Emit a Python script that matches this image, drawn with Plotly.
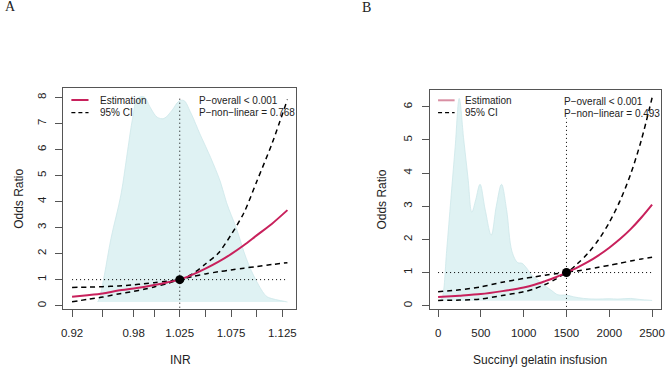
import plotly.graph_objects as go

# ---------------- Panel A : INR ----------------
inr_x = [0.92, 0.935, 0.95, 0.965, 0.98, 0.99, 1.0, 1.0125, 1.025, 1.0375, 1.05,
         1.0625, 1.075, 1.0875, 1.1, 1.115, 1.13]
inr_est = [0.34, 0.40, 0.47, 0.58, 0.66, 0.72, 0.79, 0.89, 1.0, 1.19, 1.42,
           1.68, 1.98, 2.32, 2.70, 3.15, 3.67]
inr_upper = [0.70, 0.71, 0.73, 0.755, 0.80, 0.84, 0.88, 0.94, 1.0, 1.22, 1.60,
             2.01, 2.72, 3.56, 4.76, 6.23, 7.92]
inr_lower = [0.15, 0.24, 0.33, 0.45, 0.55, 0.63, 0.72, 0.85, 1.0, 1.12, 1.22,
             1.30, 1.37, 1.44, 1.50, 1.58, 1.65]
inr_dens_x = [0.945, 0.9467, 0.9515, 0.958, 0.9676, 0.974, 0.979, 0.9838, 0.9902,
              0.9966, 1.003, 1.0095, 1.0176, 1.024, 1.029, 1.0353, 1.0452, 1.055,
              1.0647, 1.0707, 1.0804, 1.09, 1.0997, 1.109, 1.1126, 1.1287, 1.13]
inr_dens_y = [0.15, 0.28, 1.18, 2.59, 4.25, 5.91, 7.19, 7.96, 8.02,
              7.59, 7.24, 7.19, 7.51, 7.85, 7.88, 7.45, 6.55, 5.70,
              4.75, 3.95, 2.95, 1.80, 0.95, 0.38, 0.30, 0.15, 0.14]
inr_dens_base = 0.14
inr_ref = 1.025
inr_ticks = [0.92, 0.95, 0.98, 1.0, 1.025, 1.05, 1.075, 1.1, 1.125]
inr_ticklabels = ["0.92", "", "0.98", "", "1.025", "", "1.075", "", "1.125"]
inr_yticks = [0, 1, 2, 3, 4, 5, 6, 7, 8]
inr_p = ["P\u2212overall < 0.001", "P\u2212non\u2212linear = 0.768"]

# ---------------- Panel B : Succinyl gelatin ----------------
sg_x = [0, 250, 500, 750, 1000, 1125, 1250, 1375, 1500, 1625, 1750, 1875, 2000,
        2125, 2250, 2375, 2500]
sg_est = [0.26, 0.30, 0.35, 0.44, 0.55, 0.63, 0.74, 0.86, 1.0, 1.15, 1.32, 1.52,
          1.75, 2.01, 2.31, 2.66, 3.05]
sg_upper = [0.42, 0.48, 0.57, 0.71, 0.82, 0.87, 0.92, 0.965, 1.0, 1.26, 1.58, 1.99,
            2.51, 3.16, 3.97, 5.00, 6.27]
sg_lower = [0.16, 0.17, 0.20, 0.31, 0.42, 0.51, 0.64, 0.80, 1.0, 1.05, 1.10, 1.16,
            1.22, 1.28, 1.35, 1.41, 1.46]
sg_dens_x = [30, 54, 100, 150, 200, 247, 300, 350, 394, 440, 490, 550, 621, 680,
             741, 800, 864, 930, 980, 1030, 1100, 1180, 1250, 1330, 1400, 1500,
             1580, 1700, 1850, 2000, 2100, 2250, 2350, 2500]
sg_dens_y = [0.17, 0.30, 1.66, 3.24, 4.80, 6.25, 5.00, 3.84, 2.82, 3.20, 3.66, 2.90,
             2.13, 3.00, 3.66, 2.90, 1.63, 1.30, 1.28, 1.15, 0.90, 0.75, 0.60, 0.45,
             0.33, 0.32, 0.27, 0.22, 0.20, 0.21, 0.20, 0.22, 0.19, 0.16]
sg_dens_base = 0.15
sg_ref = 1500
sg_ticks = [0, 500, 1000, 1500, 2000, 2500]
sg_ticklabels = ["0", "500", "1000", "1500", "2000", "2500"]
sg_yticks = [0, 1, 2, 3, 4, 5, 6]
sg_p = ["P\u2212overall < 0.001", "P\u2212non\u2212linear = 0.493"]

W, H = 669, 367
RED = "#C8215C"
FILL = "#DFF2F3"
EDGE = "#CDE7EA"
FONT = "Liberation Sans, Arial, sans-serif"
TXT = "#222222"


def px(x):
    return x / W


def py(y):
    return 1 - y / H


fig = go.Figure()


def add_panel(xa, ya, x, est, up, lo, dx, dy, base, ref, dot_top):
    # density
    fig.add_trace(go.Scatter(x=dx, y=[base] * len(dx), mode="lines",
                             line=dict(color=EDGE, width=0), xaxis=xa, yaxis=ya,
                             showlegend=False, hoverinfo="skip"))
    fig.add_trace(go.Scatter(x=dx, y=dy, mode="lines", fill="tonexty",
                             fillcolor=FILL, line=dict(color=EDGE, width=0.8, shape="spline"),
                             xaxis=xa, yaxis=ya, showlegend=False, hoverinfo="skip"))
    # reference lines
    fig.add_trace(go.Scatter(x=[x[0], x[-1]], y=[1, 1], mode="lines",
                             line=dict(color="black", width=1, dash="1px,3px"),
                             xaxis=xa, yaxis=ya, showlegend=False))
    fig.add_trace(go.Scatter(x=[ref, ref], y=[-1, dot_top], mode="lines",
                             line=dict(color="black", width=1, dash="1px,3px"),
                             xaxis=xa, yaxis=ya, showlegend=False))
    # CI
    for arr in (up, lo):
        fig.add_trace(go.Scatter(x=x, y=arr, mode="lines",
                                 line=dict(color="black", width=1.5, dash="5px,4px",
                                           shape="spline", smoothing=0.8),
                                 xaxis=xa, yaxis=ya, showlegend=False))
    fig.add_trace(go.Scatter(x=x, y=est, mode="lines",
                             line=dict(color=RED, width=2, shape="spline", smoothing=0.8),
                             xaxis=xa, yaxis=ya, showlegend=False))
    fig.add_trace(go.Scatter(x=[ref], y=[1], mode="markers",
                             marker=dict(color="black", size=9),
                             xaxis=xa, yaxis=ya, showlegend=False))


add_panel("x", "y", inr_x, inr_est, inr_upper, inr_lower, inr_dens_x, inr_dens_y,
          inr_dens_base, inr_ref, 8.0)
add_panel("x2", "y2", sg_x, sg_est, sg_upper, sg_lower, sg_dens_x, sg_dens_y,
          sg_dens_base, sg_ref, 5.65)

axis_common = dict(showline=True, mirror=True, linecolor="#555555", linewidth=1,
                   ticks="outside", ticklen=7, tickcolor="#555555", tickwidth=1,
                   showgrid=False, zeroline=False,
                   tickfont=dict(family=FONT, size=11.5, color=TXT))

fig.update_layout(
    width=W, height=H, margin=dict(l=0, r=0, t=0, b=0),
    plot_bgcolor="white", paper_bgcolor="white", showlegend=False,
    xaxis=dict(domain=[px(61.7), px(296.7)], range=[0.9113, 1.1384], anchor="y",
               tickvals=inr_ticks, ticktext=inr_ticklabels, ticklabelstandoff=6,
               **axis_common),
    yaxis=dict(domain=[py(309.3), py(88.3)], range=[-0.14, 8.35], anchor="x",
               tickvals=inr_yticks, tickangle=-90, ticklabelstandoff=5, **axis_common),
    xaxis2=dict(domain=[px(431.4), px(664.6)], range=[-100, 2600], anchor="y2",
                tickvals=sg_ticks, ticktext=sg_ticklabels, ticklabelstandoff=6,
                **axis_common),
    yaxis2=dict(domain=[py(308.7), py(89.5)], range=[-0.09, 6.52], anchor="x2",
                tickvals=sg_yticks, tickangle=-90, ticklabelstandoff=5, **axis_common),
)

ann = []


def text(x, y, s, size, anchor="left", angle=0, family=FONT, color=TXT):
    ann.append(dict(x=px(x), y=py(y), xref="paper", yref="paper", text=s,
                    showarrow=False, xanchor=anchor, yanchor="middle",
                    textangle=angle, font=dict(family=family, size=size, color=color)))


SERIF = "Liberation Serif, Times New Roman, serif"
text(1, 7, "A", 14, family=SERIF)
text(361, 8, "B", 14, family=SERIF)
text(17, 199, "Odds Ratio", 12, anchor="center", angle=-90)
text(383, 200, "Odds Ratio", 12, anchor="center", angle=-90)
text(180, 360, "INR", 12, anchor="center")
text(542.5, 360, "Succinyl gelatin insfusion", 12, anchor="center")

# legends
text(96.7, 100, "Estimation", 10)
text(96.7, 112.7, "95% CI", 10)
text(465, 100.3, "Estimation", 10)
text(465, 112.7, "95% CI", 10)
# p-values
text(196.7, 100.7, inr_p[0], 10)
text(196.7, 112.7, inr_p[1], 10)
text(565, 101.7, sg_p[0], 10)
text(565, 113.3, sg_p[1], 10)

shapes = []
for (x0, x1, y, col, dash) in [(70, 87.3, 100, RED, "solid"), (70, 87.3, 112.7, "black", "dash"),
                               (440, 456.7, 100.3, "#D98FA3", "solid"), (440, 456.7, 112.7, "black", "dash")]:
    shapes.append(dict(type="line", xref="paper", yref="paper", x0=px(x0), x1=px(x1),
                       y0=py(y), y1=py(y),
                       line=dict(color=col, width=2 if dash == "solid" else 1.3,
                                 dash="4px,3px" if dash == "dash" else "solid")))

fig.update_layout(annotations=ann, shapes=shapes)
fig.write_html("out.html")
